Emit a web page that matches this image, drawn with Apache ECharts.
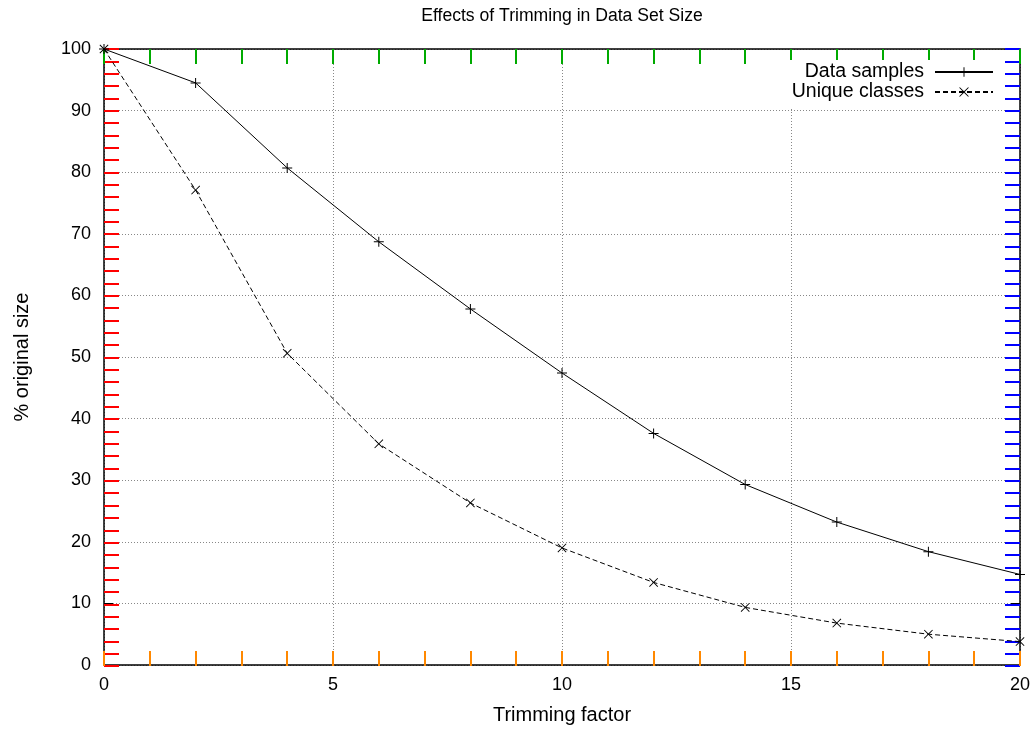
<!DOCTYPE html>
<html>
<head>
<meta charset="utf-8">
<script src="https://cdn.jsdelivr.net/npm/echarts@6/dist/echarts.min.js"></script>
<style>
html,body{margin:0;padding:0;background:#fff;}
#chart{width:1035px;height:730px;}
</style>
</head>
<body>
<div id="chart"></div>
<script>
var trimmingFactor = [0, 2, 4, 6, 8, 10, 12, 14, 16, 18, 20];
var dataSamples = [100, 94.5, 80.7, 68.7, 57.8, 47.4, 37.6, 29.3, 23.2, 18.4, 14.7];
var uniqueClasses = [100, 77.1, 50.6, 35.9, 26.3, 19.0, 13.4, 9.35, 6.8, 5.0, 3.8];
var xTicks = [0, 5, 10, 15, 20];
var yTicks = [0, 10, 20, 30, 40, 50, 60, 70, 80, 90, 100];

var FONT = 'Liberation Sans, Arial, sans-serif';
var plusPath = 'path://M4.5,0H5.5V4.5H10V5.5H5.5V10H4.5V5.5H0V4.5H4.5Z';
var crossPath = 'path://M0,0.7L0.7,0L5,4.3L9.3,0L10,0.7L5.7,5L10,9.3L9.3,10L5,5.7L0.7,10L0,9.3L4.3,5Z';

function pairs(xs, ys) { return xs.map(function (x, i) { return [x, ys[i]]; }); }

var axisLineStyle = { show: true, onZero: false, lineStyle: { color: '#000', width: 1.5 } };
var majorTick = { show: true, inside: true, length: 9, lineStyle: { color: '#000', width: 1 } };
function dbgTick(c) { return { show: true, inside: true, length: 15, lineStyle: { color: c, width: 2 } }; }
var gridSplit = { show: true, lineStyle: { color: '#888888', width: 1, type: [1, 2] } };

function makeGrid() { return { left: 104, right: 15, top: 49, bottom: 64, containLabel: false }; }

function plainAxis(grid, pos, min, max, interval, tick, showLine) {
  return {
    type: 'value', gridIndex: grid, min: min, max: max, interval: interval, position: pos,
    offset: 0,
    axisLine: showLine ? axisLineStyle : { show: false, onZero: false },
    axisTick: tick, minorTick: { show: false },
    splitLine: { show: false }, axisLabel: { show: false }
  };
}

var chart = echarts.init(document.getElementById('chart'), null, { renderer: 'canvas' });
chart.setOption({
  animation: false,
  backgroundColor: '#fff',
  textStyle: { fontFamily: FONT },
  title: {
    text: 'Effects of Trimming in Data Set Size',
    left: 557, top: 2, textAlign: 'center',
    textStyle: { fontFamily: FONT, fontSize: 17.6, fontWeight: 'normal', color: '#000' }
  },
  grid: [makeGrid(), makeGrid()],
  legend: {
    orient: 'vertical', right: 37, top: 60, align: 'right',
    itemWidth: 58, itemHeight: 12, itemGap: 0,
    backgroundColor: '#fff', padding: [2, 4, 6, 10],
    textStyle: { fontFamily: FONT, fontSize: 19.5, lineHeight: 20, color: '#000', padding: [0, 6, 0, 0] },
    data: ['Data samples', 'Unique classes']
  },
  xAxis: [{
    type: 'value', gridIndex: 0, min: 0, max: 20, interval: 5, position: 'bottom',
    name: 'Trimming factor', nameLocation: 'middle', nameGap: 40,
    nameTextStyle: { fontFamily: FONT, fontSize: 20, color: '#000' },
    axisLine: axisLineStyle, axisTick: majorTick, minorTick: { show: false },
    splitLine: gridSplit,
    axisLabel: { margin: 11, fontFamily: FONT, fontSize: 18, color: '#000',
      customValues: xTicks }
  },
    plainAxis(0, 'top', 0, 20, 5, majorTick, true),
    plainAxis(1, 'bottom', 0, 20, 1, dbgTick('#ff8800'), false),
    plainAxis(1, 'top', 0, 20, 1, dbgTick('#00aa00'), false)
  ],
  yAxis: [{
    type: 'value', gridIndex: 0, min: 0, max: 100, interval: 10, position: 'left',
    name: '% original size', nameLocation: 'middle', nameGap: 72, nameRotate: 90,
    nameTextStyle: { fontFamily: FONT, fontSize: 20, color: '#000' },
    axisLine: axisLineStyle, axisTick: majorTick, minorTick: { show: false },
    splitLine: gridSplit,
    axisLabel: { margin: 13, fontFamily: FONT, fontSize: 18, color: '#000',
      customValues: yTicks }
  },
    plainAxis(0, 'right', 0, 100, 10, majorTick, true),
    plainAxis(1, 'left', 0, 100, 2, dbgTick('#ff0000'), false),
    plainAxis(1, 'right', 0, 100, 2, dbgTick('#0000ff'), false)
  ],
  series: [{
    name: 'Data samples', type: 'line', xAxisIndex: 0, yAxisIndex: 0,
    data: pairs(trimmingFactor, dataSamples),
    symbol: plusPath, symbolSize: 10, showAllSymbol: true,
    lineStyle: { color: '#000', width: 1, type: 'solid' },
    itemStyle: { color: '#000' }, z: 3
  }, {
    name: 'Unique classes', type: 'line', xAxisIndex: 0, yAxisIndex: 0,
    data: pairs(trimmingFactor, uniqueClasses),
    symbol: crossPath, symbolSize: 9, showAllSymbol: true,
    lineStyle: { color: '#000', width: 1, type: [5, 3] },
    itemStyle: { color: '#000' }, z: 3
  }]
});
</script>
</body>
</html>
